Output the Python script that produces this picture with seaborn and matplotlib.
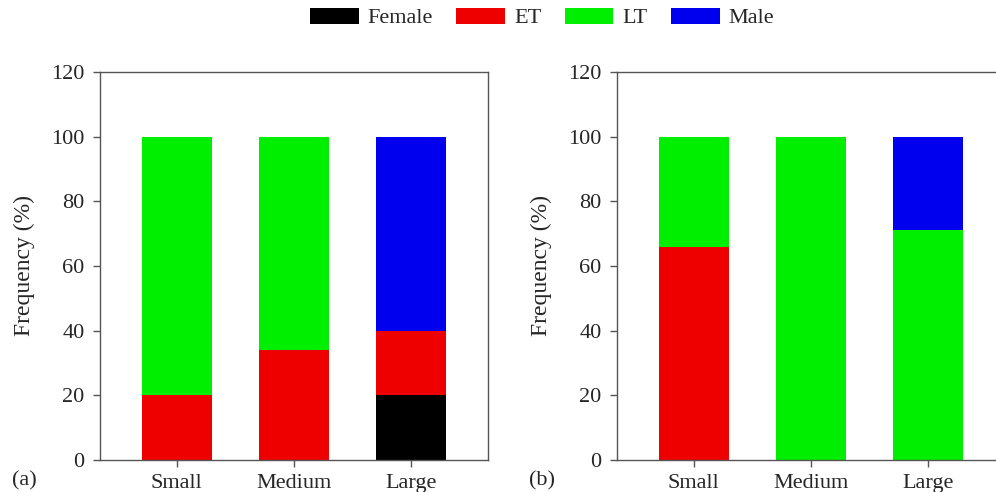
import matplotlib
matplotlib.use("Agg")
import matplotlib.pyplot as plt
from matplotlib.patches import Patch
import numpy as np
import pandas as pd
import seaborn as sns

sns.set_theme(style="white")
plt.rcParams["font.family"] = ["Liberation Serif", "DejaVu Serif"]
plt.rcParams["font.size"] = 16

sizes = ["Small", "Medium", "Large"]
groups = ["Female", "ET", "LT", "Male"]
colors = {"Female": "#000000", "ET": "#ee0000", "LT": "#00ee00", "Male": "#0000ee"}

# panel (a)
a_female = [0, 0, 20]
a_et = [20, 34, 20]
a_lt = [80, 66, 0]
a_male = [0, 0, 60]

# panel (b)
b_female = [0, 0, 0]
b_et = [66, 0, 0]
b_lt = [34, 100, 71]
b_male = [0, 0, 29]

W, H = 996, 492
fig = plt.figure(figsize=(W / 100, H / 100), dpi=100)


def make_axes(x0, x1, y_top=72, y_bot=460):
    return fig.add_axes([x0 / W, (H - y_bot) / H, (x1 - x0) / W, (y_bot - y_top) / H])


def stacked(ax, female, et, lt, male, tag):
    df = pd.DataFrame({"size": sizes, "Female": female, "ET": et, "LT": lt, "Male": male})
    cum = df[groups].cumsum(axis=1)
    # draw cumulative heights from the top layer down so each lower layer covers the rest
    for g in reversed(groups):
        sns.barplot(x=sizes, y=cum[g].values, order=sizes, color=colors[g],
                    width=0.6, linewidth=0, saturation=1, ax=ax)
    ax.set_xlim(-0.655, 2.655)
    ax.set_ylim(0, 120)
    ax.set_yticks(np.arange(0, 121, 20))
    ax.set_ylabel("Frequency (%)", fontsize=17, labelpad=12)
    ax.set_xlabel("")
    for s in ax.spines.values():
        s.set_color("#555555")
        s.set_linewidth(1.0)
    ax.tick_params(axis="both", direction="out", length=5, width=1, color="#555555",
                   labelsize=16, left=True, bottom=True)
    ax.tick_params(axis="y", pad=6)
    ax.tick_params(axis="x", pad=5)
    ax.text(-0.226, -0.055, tag, transform=ax.transAxes, fontsize=16, ha="left", va="center")


ax1 = make_axes(100, 488)
stacked(ax1, a_female, a_et, a_lt, a_male, "(a)")
ax2 = make_axes(617, 1005)
stacked(ax2, b_female, b_et, b_lt, b_male, "(b)")

handles = [Patch(facecolor=colors[g], edgecolor="none", label=g) for g in groups]
fig.legend(handles=handles, loc="center", bbox_to_anchor=(542 / W, 1 - 18 / H), ncol=4,
           frameon=False, fontsize=16, handlelength=2.2, handleheight=0.75,
           handletextpad=0.4, columnspacing=1.05)

fig.savefig("out.png", dpi=100)
